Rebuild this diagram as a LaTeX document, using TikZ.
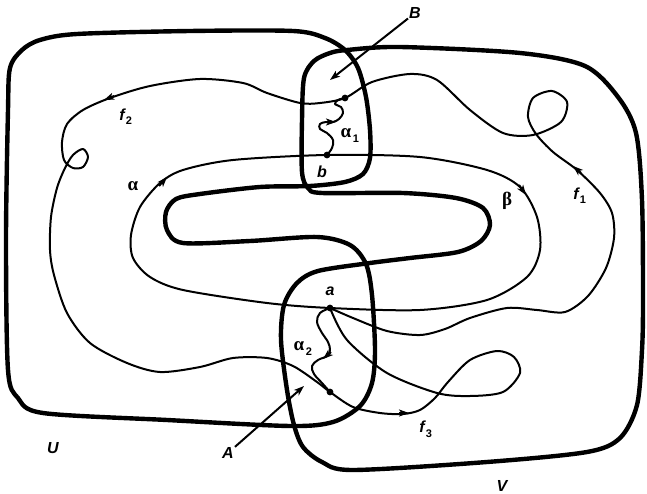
\documentclass[tikz,border=0pt]{standalone}
\usepackage{fontspec}
\newfontfamily\lab{Liberation Sans}
\newfontfamily\grk{Liberation Serif}
\usetikzlibrary{arrows.meta}
\begin{document}
\begin{tikzpicture}[x=1pt,y=-1pt,
  thickc/.style={line width=4.4pt, line join=round},
  thinc/.style={line width=2pt, line join=round},
  tipc/.style={line width=2pt, -{Stealth[length=10pt,width=7pt,inset=2.5pt]}},
  lbl/.style={font=\lab\bfseries\itshape\fontsize{16}{18}\selectfont, inner sep=1pt},
  flbl/.style={font=\lab\bfseries\itshape\fontsize{16}{18}\selectfont, inner sep=1pt},
  glbl/.style={font=\grk\bfseries\fontsize{19}{20}\selectfont, inner sep=1pt},
  sub/.style={font=\lab\bfseries\fontsize{11}{11}\selectfont, inner sep=0pt}
]
\useasboundingbox (0,0) rectangle (647,494);
% U boundary
\draw[thickc] plot[smooth cycle, tension=0.5] coordinates {
 (8,110) (10,68) (22,50) (40,40) (77,34) (190,31) (293,31) (325,38) (345,50)
 (358,68) (366,97) (370,130) (370,158) (363,174) (345,182) (310,186) (260,187)
 (200,194) (176,199) (166,212) (167,230) (183,243) (250,241) (317,237) (350,245)
 (366,264) (372,295) (375,350) (372,383) (360,406) (333,422) (290,426) (167,420)
 (43,413) (18,398) (8,370) (6,240)};
% V boundary
\draw[thickc] plot[smooth cycle, tension=0.5] coordinates {
 (347,50) (400,47) (520,53) (585,66) (618,97) (636,133) (642,200) (643,300)
 (642,350) (637,405) (620,438) (587,452) (487,462) (353,470) (322,462) (303,447)
 (294,425) (287,390) (281,340) (284,305) (297,283) (318,271) (370,263) (410,258)
 (458,252) (481,241) (490,225) (483,208) (456,198) (403,193) (322,193) (308,188)
 (302,172) (302,120) (304,78) (314,61) (330,53)};
% alpha-beta loop
\draw[thinc] plot[smooth cycle, tension=0.5] coordinates {
 (327,155) (420,157) (487,170) (520,187) (537,217) (540,250) (527,277) (487,300)
 (420,310) (330,308) (267,303) (183,290) (150,277) (133,258) (131,235) (140,207)
 (160,183) (183,170) (233,160)};
% f1, f2, f3
\draw[thinc] plot[smooth, tension=0.5] coordinates {
 (330,308) (353,318) (387,331) (420,335) (445,329) (470,318) (507,308) (537,310)
 (565,312) (588,296) (606,268) (614,238) (612,213) (600,193) (577,170) (553,152)
 (536,134) (528,117) (533,98) (552,91) (567,102) (561,122) (533,135) (503,133)
 (470,110) (437,80) (410,74) (372,82) (345,98) (320,103) (300,103) (267,93)
 (243,83) (200,79) (150,86) (110,98) (83,110) (67,124) (62,142) (64,160) (73,168)
 (83,167) (88,157) (83,149) (73,155) (65,168) (57,188) (51,217) (50,250) (54,275)
 (67,313) (90,343) (127,363) (160,372) (200,367) (233,358) (267,358) (293,366)
 (317,382) (330,392) (353,407) (380,413) (403,414) (420,410) (435,398) (448,382)
 (470,360) (497,351) (514,357) (520,373) (503,392) (470,396) (437,393) (387,373)
 (347,340) (330,308)};
% alpha1 wavy
\draw[thinc] plot[smooth, tension=0.6] coordinates {
 (327,155) (332,148) (333,140) (327,133) (320,129) (320,124) (326,122) (333,122)
 (339,119) (343,113) (341,107) (335,104) (338,100) (345,98)};
% alpha2 wavy
\draw[thinc] plot[smooth, tension=0.6] coordinates {
 (330,308) (320,313) (317,322) (322,333) (328,342) (330,350) (327,356) (318,360)
 (312,366) (314,374) (322,383) (330,392)};
% points
\coordinate (a) at (330,308);
\coordinate (b) at (327,155);
\coordinate (pB) at (345,98);
\coordinate (pA) at (330,392);
\foreach \p in {a,b,pB,pA} \fill (\p) circle[radius=3.4pt];
% arrowheads on curves
\draw[tipc] (159,186) -- (167,177);
\draw[tipc] (519,185) -- (526,195);
\draw[tipc] (581,173) -- (573,166);
\draw[tipc] (114,96) -- (104,100);
\draw[tipc] (399,413) -- (409,413);
\draw[tipc] (326,122) -- (336,122);
\draw[tipc] (331,352) -- (323,359);
% labels
\node[lbl] (Blab) at (415,13) {B};
\node[lbl] (Alab) at (228,453) {A};
\node[lbl] at (53,448) {U};
\node[lbl] at (502,486) {V};
\node[lbl] at (330,291) {a};
\node[lbl] at (322,172) {b};
\coordinate (Btip) at (330,80);
\coordinate (Atip) at (304,386);
\draw[tipc] (Blab) -- (Btip);
\draw[tipc] (Alab) -- (Atip);
% f labels
\node[flbl] at (122,115) {f};
\node[sub] at (129,121) {2};
\node[flbl] at (576,194) {f};
\node[sub] at (583,200) {1};
\node[flbl] at (422,427) {f};
\node[sub] at (429,434) {3};
% greek labels
\node[glbl] at (133,186) {α};
\node[glbl] at (507,201) {β};
\node[glbl] at (346,133) {α};
\node[sub] at (356,139) {1};
\node[glbl] at (299,346) {α};
\node[sub] at (309,352) {2};
\end{tikzpicture}
\end{document}
